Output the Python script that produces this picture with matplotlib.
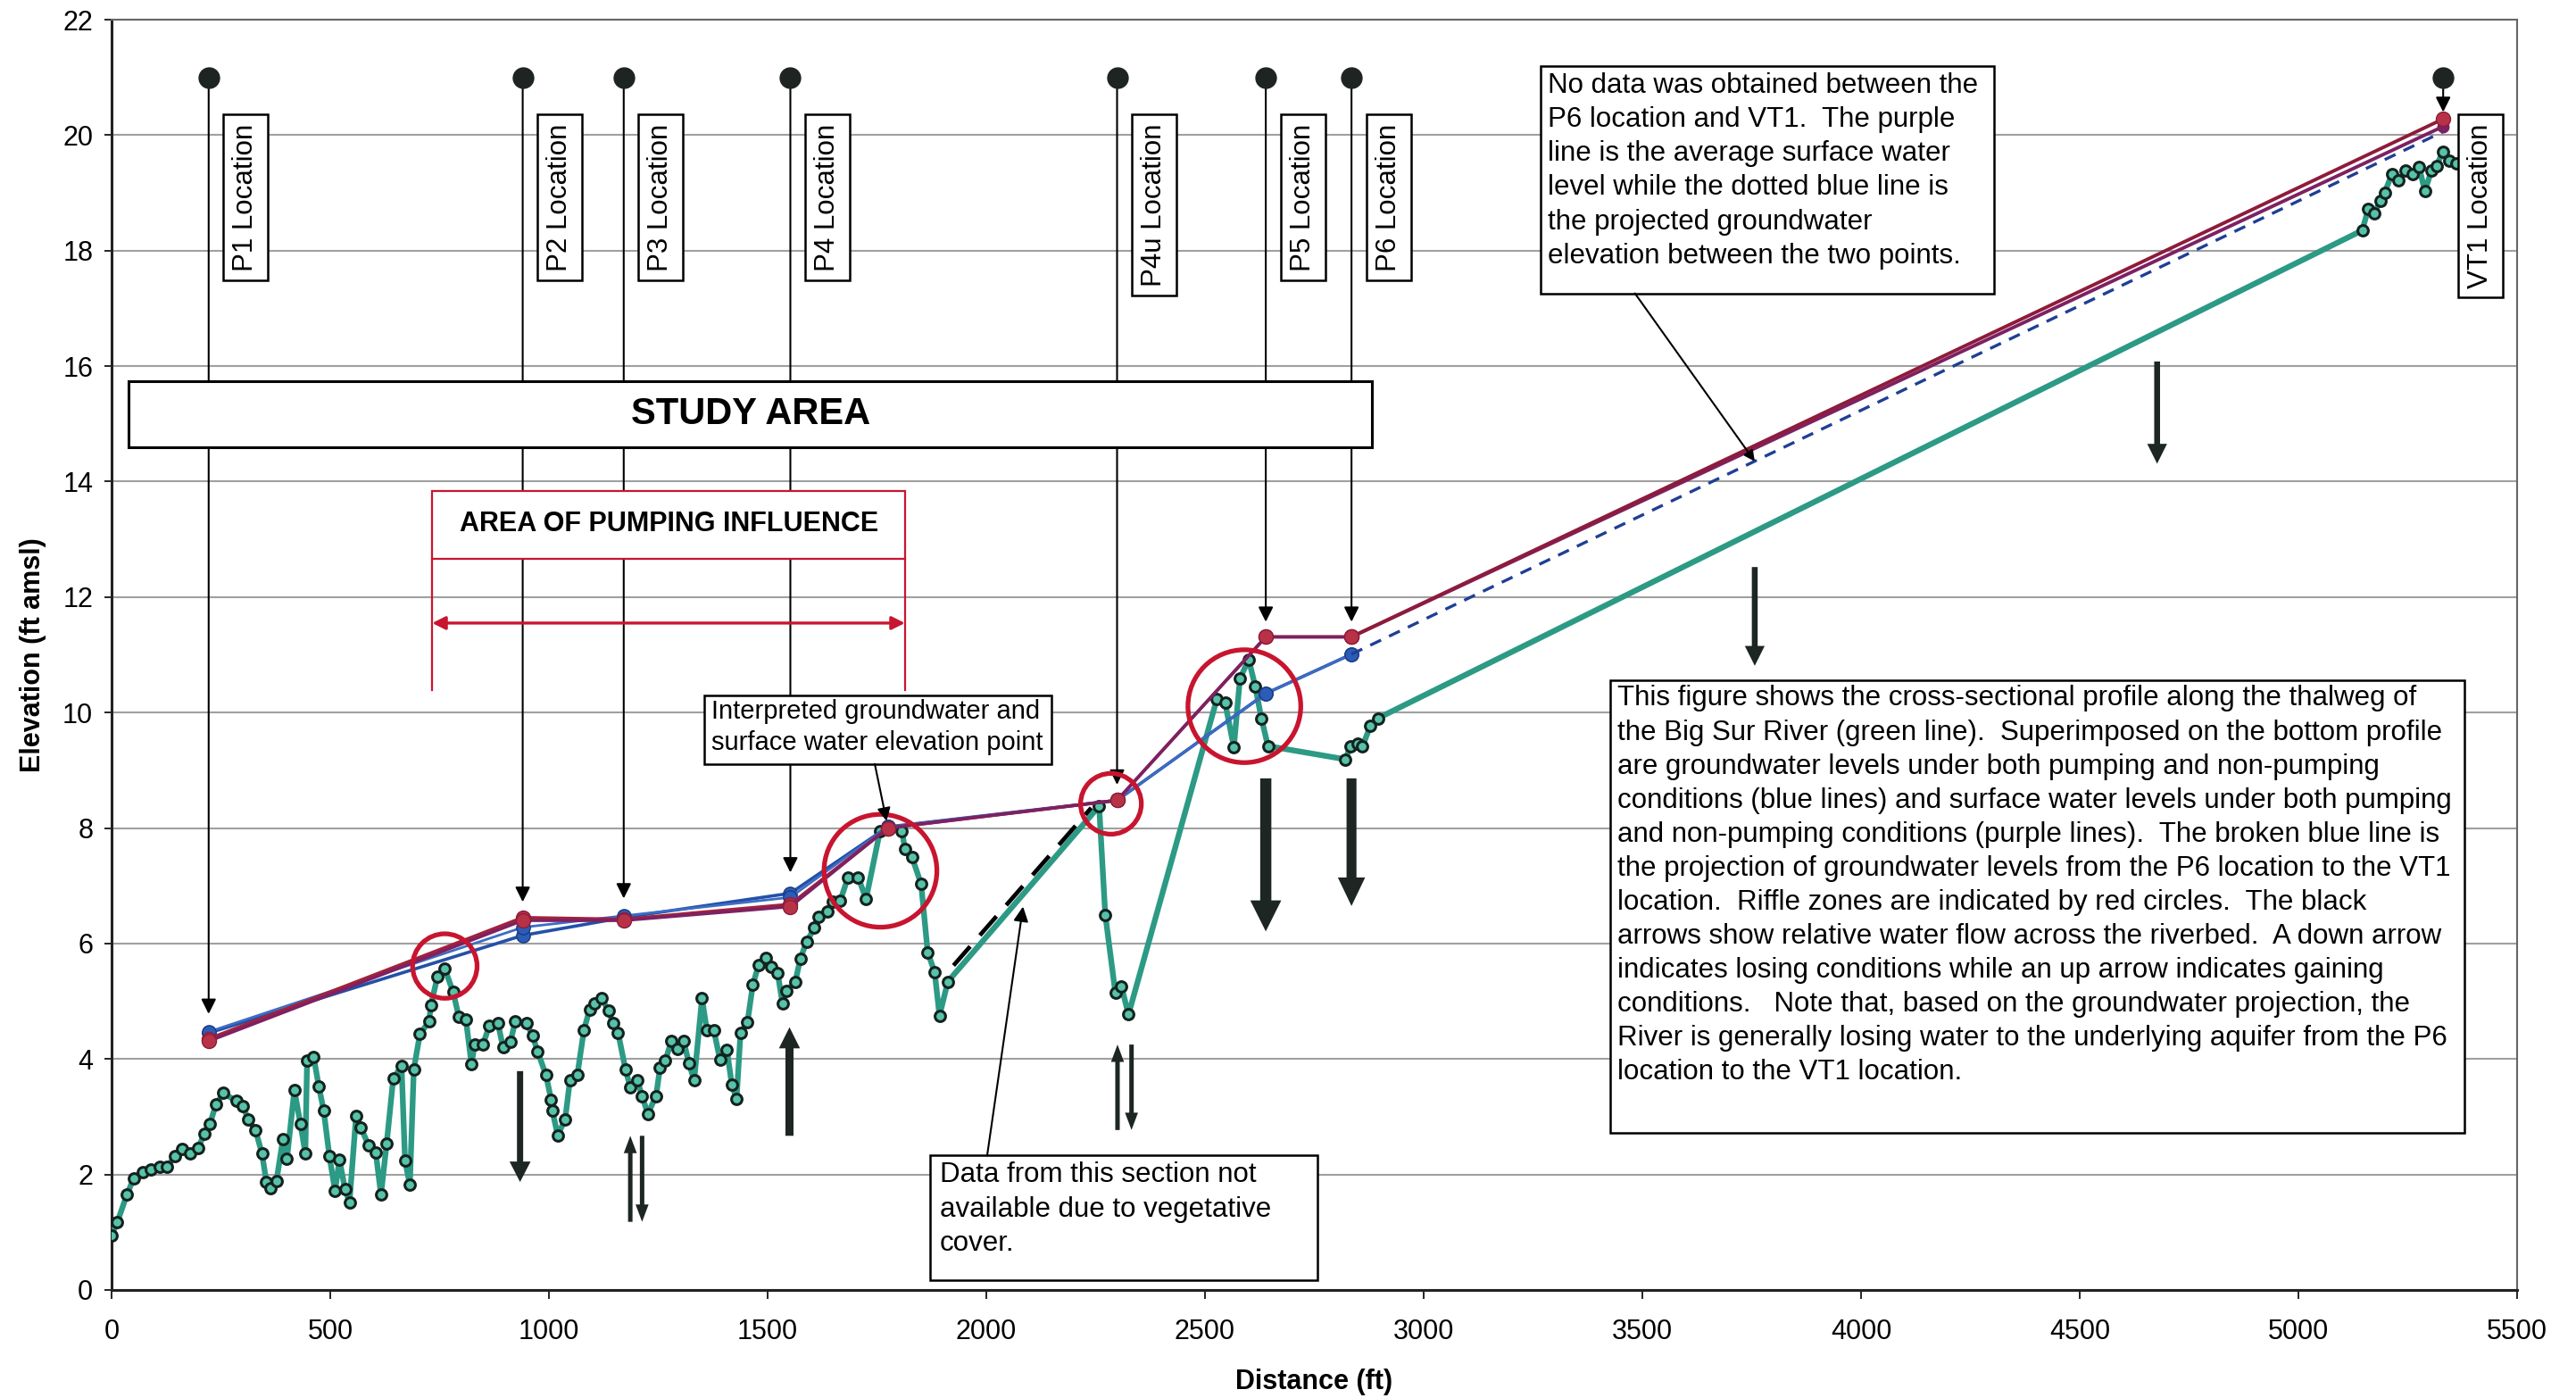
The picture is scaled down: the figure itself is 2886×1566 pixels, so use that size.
import matplotlib
matplotlib.use("Agg")
import matplotlib.pyplot as plt
from matplotlib.patches import Rectangle

plt.rcParams['font.family'] = ['Liberation Sans', 'DejaVu Sans']

# thalweg profile of the river (green line)
dist = [0, 13, 35, 51, 72, 90, 110, 127, 145, 162, 180, 197, 213, 225, 239, 256,
        285, 301, 312, 329, 344, 354, 363, 377, 392, 401, 418, 432, 443, 447, 462,
        474, 485, 498, 511, 521, 534, 544, 559, 570, 588, 604, 616, 629, 644, 663,
        671, 682, 691, 705, 726, 730, 745, 762, 781, 794, 810, 823, 830, 849, 864,
        883, 895, 912, 923, 948, 963, 974, 993, 1005, 1008, 1020, 1037, 1048, 1065,
        1080, 1093, 1105, 1120, 1136, 1146, 1158, 1175, 1186, 1202, 1213, 1226, 1245,
        1254, 1266, 1280, 1294, 1308, 1320, 1332, 1350, 1361, 1377, 1391, 1407, 1418,
        1429, 1438, 1454, 1466, 1479, 1495, 1509, 1523, 1534, 1543, 1563, 1575, 1589,
        1607, 1616, 1636, 1648, 1666, 1684, 1707, 1725, 1757, 1775, 1807, 1814, 1830,
        1851, 1866, 1882, 1893, 1912, 2258, 2272, 2295, 2309, 2325, 2527, 2546, 2566,
        2580, 2600, 2615, 2629, 2644, 2821, 2833, 2848, 2860, 2878, 2895, 5146, 5160,
        5173, 5187, 5197, 5214, 5229, 5245, 5261, 5276, 5289, 5304, 5316, 5330, 5345,
        5361]
bed = [0.95, 1.17, 1.65, 1.94, 2.04, 2.09, 2.13, 2.13, 2.32, 2.45, 2.37, 2.46, 2.70,
       2.88, 3.22, 3.41, 3.27, 3.19, 2.95, 2.77, 2.36, 1.87, 1.76, 1.89, 2.62, 2.27,
       3.46, 2.87, 2.37, 3.97, 4.04, 3.52, 3.11, 2.32, 1.72, 2.25, 1.74, 1.52, 3.01,
       2.81, 2.50, 2.38, 1.65, 2.54, 3.66, 3.88, 2.24, 1.82, 3.82, 4.43, 4.65, 4.93,
       5.42, 5.56, 5.16, 4.73, 4.69, 3.91, 4.25, 4.25, 4.58, 4.63, 4.21, 4.30, 4.65,
       4.63, 4.40, 4.13, 3.73, 3.30, 3.10, 2.68, 2.95, 3.63, 3.73, 4.50, 4.86, 4.97,
       5.05, 4.84, 4.63, 4.46, 3.82, 3.51, 3.63, 3.36, 3.05, 3.36, 3.85, 3.97, 4.31,
       4.18, 4.31, 3.93, 3.63, 5.05, 4.50, 4.50, 3.99, 4.16, 3.56, 3.31, 4.45, 4.64,
       5.28, 5.62, 5.75, 5.60, 5.49, 4.96, 5.18, 5.33, 5.74, 6.03, 6.27, 6.47, 6.55,
       6.72, 6.74, 7.15, 7.15, 6.77, 7.95, 8.03, 7.95, 7.64, 7.50, 7.03, 5.85, 5.50,
       4.75, 5.34, 8.38, 6.50, 5.15, 5.26, 4.77, 10.23, 10.17, 9.40, 10.59, 10.92,
       10.45, 9.90, 9.42, 9.19, 9.42, 9.46, 9.41, 9.77, 9.90, 18.35, 18.73, 18.64,
       18.86, 19.00, 19.33, 19.21, 19.38, 19.33, 19.45, 19.03, 19.38, 19.47, 19.71,
       19.56, 19.51]

# groundwater / surface water levels
wl_x = [222, 940, 1171, 1552, 1775, 2299, 2639, 2835]
gw_pump = [4.45, 6.14, 6.45, 6.87, 8.02, 8.48, 10.33, 11.01]
gw_nopump = [4.47, 6.28, 6.48, 6.80, 8.02, 8.48, 10.33, 11.01]
sw_pump = [4.31, 6.40, 6.40, 6.64, 8.00, 8.48, 11.31, 11.31]
sw_nopump = [4.35, 6.45, 6.42, 6.68, 8.00, 8.48, 11.31, 11.31]

# projection P6 -> VT1
proj_x = [2835, 5331]
sw_proj1 = [11.31, 20.28]
sw_proj2 = [11.31, 20.15]
gw_proj = [11.01, 20.06]

# piezometer locations
loc_names = ['P1', 'P2', 'P3', 'P4', 'P4u', 'P5', 'P6', 'VT1']
loc_x = [222, 940, 1171, 1552, 2299, 2639, 2835, 5331]
loc_tip = [4.78, 6.72, 6.78, 7.23, 8.75, 11.57, 11.57, 20.40]

# riffle zones (red circles)
riffle_x = [762, 1758, 2285, 2590]
riffle_y = [5.61, 7.26, 8.42, 10.11]
riffle_d = [52, 91, 49, 91]

# flow arrows across the riverbed
flow_x = [934, 1186, 1213, 1550, 2300, 2332, 2639, 2835, 3757, 4677]
flow_from = [3.79, 1.18, 2.67, 2.67, 2.77, 4.25, 8.86, 8.86, 12.52, 16.08]
flow_to = [1.87, 2.67, 1.18, 4.55, 4.25, 2.77, 6.21, 6.65, 10.81, 14.31]
flow_size = [(5, 17, 16.5), (3.6, 10.5, 14), (3.6, 10.5, 14), (6.5, 17, 17),
             (3.6, 10.5, 14), (3.6, 10.5, 14), (9, 25, 25), (8, 22, 23),
             (4.7, 16, 16), (4.7, 16, 16)]

# data gap (dashed)
gap_x = [1925, 2240]
gap_y = [5.62, 8.35]

red = '#c8152f'
dark = '#1d2622'

fig = plt.figure(figsize=(28.86, 15.66), dpi=100)
ax = fig.add_axes([0.04331, 0.07727, 0.93382, 0.90868])
ax.set_xlim(0, 5500)
ax.set_ylim(0, 22)
ax.set_xticks(range(0, 5501, 500))
ax.set_yticks(range(0, 23, 2))
ax.yaxis.grid(True, color='#a0a0a0', lw=1.5, zorder=0)
ax.set_axisbelow(True)
ax.tick_params(axis='x', labelsize=22, length=7, width=1.2, pad=16)
ax.tick_params(axis='y', labelsize=22, length=6, width=1.2, pad=9)
for s in ['left', 'bottom']:
    ax.spines[s].set_linewidth(2.2)
    ax.spines[s].set_color('#222222')
for s in ['top', 'right']:
    ax.spines[s].set_linewidth(1.5)
    ax.spines[s].set_color('#666666')

ax.set_xlabel('Distance (ft)', fontsize=22, fontweight='bold')
ax.set_ylabel('Elevation (ft amsl)', fontsize=22, fontweight='bold')
ax.xaxis.set_label_coords(0.5, -0.062)
ax.yaxis.set_label_coords(-0.027, 0.5)

# river profile
ax.plot(dist, bed, '-', color='#2c9a85', lw=4.6, zorder=3)
ax.plot(dist, bed, 'o', ms=8.5, mfc='#56c2aa', mec='#14221d', mew=2.2, zorder=3.5)
ax.plot(gap_x, gap_y, color='black', lw=3.4, dashes=(6, 3.5), zorder=3.6)

# water levels
ax.plot(wl_x, gw_pump, color='#2350a8', lw=2.6, marker='o', ms=11,
        mfc='#2a5cb8', mec='#1b3a80', zorder=4)
ax.plot(wl_x, gw_nopump, color='#3d6cc4', lw=2.0, marker='o', ms=11,
        mfc='#2a5cb8', mec='#1b3a80', zorder=4)
ax.plot(wl_x, sw_nopump, color='#a3213a', lw=2.6, marker='o', ms=11.5,
        mfc='#b83247', mec='#8e1b3a', zorder=4.2)
ax.plot(wl_x, sw_pump, color='#7d2163', lw=2.6, marker='o', ms=11.5,
        mfc='#b83247', mec='#8e1b3a', zorder=4.2)
ax.plot(proj_x, gw_proj, color='#1f3f95', lw=2.4, dashes=(4, 3), zorder=4)
ax.plot(proj_x, sw_proj2, color='#7d2163', lw=2.8, marker='o', ms=9,
        mfc='#7d2163', mec='#7d2163', zorder=4.2)
ax.plot(proj_x, sw_proj1, color='#8e1b3a', lw=2.8, marker='o', ms=11.5,
        mfc='#b83247', mec='#8e1b3a', zorder=4.2)

# riffle zones
ax.scatter(riffle_x, riffle_y, s=[d ** 2 for d in riffle_d], facecolors='none',
           edgecolors=red, linewidths=3.8, zorder=5)

# flow arrows
for x, y0, y1, (tw, hw, hl) in zip(flow_x, flow_from, flow_to, flow_size):
    ax.annotate('', xy=(x, y1), xytext=(x, y0), zorder=5,
                arrowprops=dict(arrowstyle=f'simple,head_length={hl},head_width={hw},tail_width={tw}',
                                mutation_scale=1, fc=dark, ec=dark, lw=0,
                                shrinkA=0, shrinkB=0))

# location pointers
for name, x, tip in zip(loc_names, loc_x, loc_tip):
    ax.annotate('', xy=(x, tip), xytext=(x, 21), zorder=2,
                arrowprops=dict(arrowstyle='-|>', color='black', lw=1.5,
                                mutation_scale=25, shrinkA=0, shrinkB=0))
    ax.plot(x, 21, 'o', ms=16.5, color='#1e2422', zorder=6)
    ax.annotate(name + ' Location', xy=(x, 20.2), xytext=(30, 0),
                textcoords='offset points', rotation=90, ha='center', va='top',
                fontsize=22.5, zorder=7,
                bbox=dict(boxstyle='square,pad=0.32', fc='white', ec='black', lw=1.8))

# study area
ax.add_patch(Rectangle((38, 14.60), 2844, 1.14, fc='white', ec='black', lw=2.2, zorder=5))
ax.text(1461, 15.17, 'STUDY AREA', fontsize=30, fontweight='bold',
        ha='center', va='center', zorder=7)

# area of pumping influence
ax.add_patch(Rectangle((733, 12.66), 1081, 1.18, fc='white', ec=red, lw=1.6, zorder=5))
ax.text(1274, 13.27, 'AREA OF PUMPING INFLUENCE', fontsize=22, fontweight='bold',
        ha='center', va='center', zorder=7)
ax.plot([733, 733], [12.66, 10.39], color=red, lw=1.6, zorder=5)
ax.plot([1814, 1814], [12.66, 10.39], color=red, lw=1.6, zorder=5)
ax.annotate('', xy=(1814, 11.55), xytext=(733, 11.55), zorder=5,
            arrowprops=dict(arrowstyle='<|-|>', color=red, lw=2.4,
                            mutation_scale=22, shrinkA=0, shrinkB=0))


def put_lines(x, y0, step, lines, size):
    for i, line in enumerate(lines):
        ax.text(x, y0 - i * step, line, fontsize=size, ha='left', va='baseline', zorder=7)


# interpreted point box
ax.add_patch(Rectangle((1356, 9.11), 793, 1.19, fc='white', ec='black', lw=1.8, zorder=6))
put_lines(1371, 9.89, 0.54, ['Interpreted groundwater and',
                             'surface water elevation point'], 21)
ax.annotate('', xy=(1772, 8.12), xytext=(1745, 9.11), zorder=6,
            arrowprops=dict(arrowstyle='-|>', color='black', lw=1.5,
                            mutation_scale=22, shrinkA=0, shrinkB=0))

# data gap box
ax.add_patch(Rectangle((1871, 0.17), 886, 2.16, fc='white', ec='black', lw=1.8, zorder=6))
put_lines(1893, 1.87, 0.598, ['Data from this section not',
                              'available due to vegetative', 'cover.'], 22.5)
ax.annotate('', xy=(2084, 6.64), xytext=(2002, 2.33), zorder=6,
            arrowprops=dict(arrowstyle='-|>', color='black', lw=1.5,
                            mutation_scale=25, shrinkA=0, shrinkB=0))

# no data box
ax.add_patch(Rectangle((3268, 17.26), 1037, 3.94, fc='white', ec='black', lw=1.8, zorder=6))
put_lines(3284, 20.74, 0.592, ['No data was obtained between the',
                               'P6 location and VT1.  The purple',
                               'line is the average surface water',
                               'level while the dotted blue line is',
                               'the projected groundwater',
                               'elevation between the two points.'], 22.5)
ax.annotate('', xy=(3757, 14.35), xytext=(3483, 17.26), zorder=6,
            arrowprops=dict(arrowstyle='-|>', color='black', lw=1.5,
                            mutation_scale=18, shrinkA=0, shrinkB=0))

# explanation box
ax.add_patch(Rectangle((3426, 2.72), 1954, 7.84, fc='white', ec='black', lw=1.8, zorder=6))
put_lines(3443, 10.12, 0.589, [
    'This figure shows the cross-sectional profile along the thalweg of',
    'the Big Sur River (green line).  Superimposed on the bottom profile',
    'are groundwater levels under both pumping and non-pumping',
    'conditions (blue lines) and surface water levels under both pumping',
    'and non-pumping conditions (purple lines).  The broken blue line is',
    'the projection of groundwater levels from the P6 location to the VT1',
    'location.  Riffle zones are indicated by red circles.  The black',
    'arrows show relative water flow across the riverbed.  A down arrow',
    'indicates losing conditions while an up arrow indicates gaining',
    'conditions.   Note that, based on the groundwater projection, the',
    'River is generally losing water to the underlying aquifer from the P6',
    'location to the VT1 location.'], 22.5)

fig.savefig('out.png', dpi=100, facecolor='white')
